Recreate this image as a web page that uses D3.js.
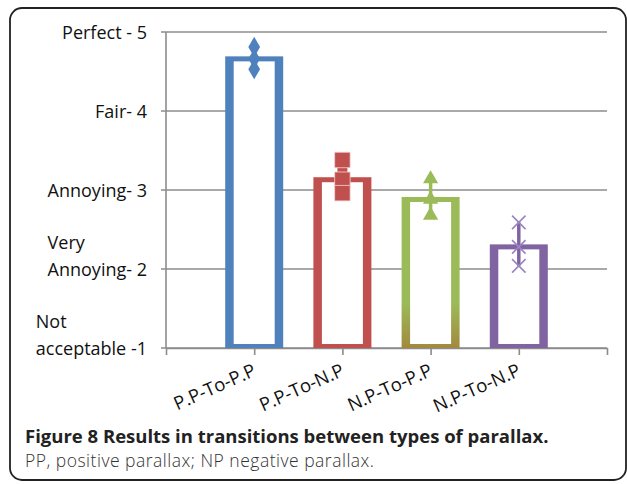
<!DOCTYPE html>
<html>
<head>
<meta charset="utf-8">
<script src="https://cdn.jsdelivr.net/npm/d3@7"></script>
<style>
  html, body { margin: 0; padding: 0; background: #fff; }
  svg { display: block; }
</style>
</head>
<body>
<svg id="chart" width="627" height="484"></svg>
<script>
// Mean opinion scores per transition type, with upper and lower spread
const categories = ["P.P-To-P.P", "P.P-To-N.P", "N.P-To-P.P", "N.P-To-N.P"];
const means = [4.66, 3.13, 2.88, 2.28];
const highs = [4.81, 3.38, 3.14, 2.59];
const lows  = [4.53, 2.96, 2.68, 2.04];
const colors = ["#4F81BD", "#C0504D", "#9BBB59", "#8064A2"];
const markers = ["diamond", "square", "triangle", "cross"];

// Rating scale labels (value, lines)
const scaleValues = [5, 4, 3, 2, 1];
const scaleLabels = [
  ["Perfect - 5"],
  ["Fair- 4"],
  ["Annoying- 3"],
  ["Very", "Annoying- 2"],
  ["Not", "acceptable -1"]
];

const captionTitle = "Figure 8 Results in transitions between types of parallax.";
const captionNote = "PP, positive parallax; NP negative parallax.";

const svg = d3.select("#chart");
const font = "'Open Sans', 'Noto Sans', sans-serif";

// Rounded frame
svg.append("rect")
  .attr("x", 10).attr("y", 8)
  .attr("width", 616).attr("height", 472)
  .attr("rx", 12).attr("ry", 12)
  .attr("fill", "none").attr("stroke", "#222").attr("stroke-width", 1.8);

const plotLeft = 166, plotRight = 607, plotTop = 32, plotBottom = 348;

const y = d3.scaleLinear().domain([1, 5]).range([plotBottom, plotTop]);
const x = d3.scaleLinear().domain([0, categories.length + 1]).range([plotLeft, plotRight]);

// Gridlines
svg.append("g").selectAll("line").data(scaleValues).join("line")
  .attr("x1", plotLeft - 5).attr("x2", plotRight)
  .attr("y1", d => y(d)).attr("y2", d => y(d))
  .attr("stroke", "#8c8c8c").attr("stroke-width", 1.6);

// Y axis line
svg.append("line")
  .attr("x1", plotLeft).attr("x2", plotLeft)
  .attr("y1", y(5)).attr("y2", y(1))
  .attr("stroke", "#8c8c8c").attr("stroke-width", 1.6);

// X axis with ticks
const xAxis = d3.axisBottom(x)
  .tickValues(d3.range(0, categories.length + 2))
  .tickSize(7)
  .tickSizeOuter(0)
  .tickFormat("");
const xg = svg.append("g").attr("transform", `translate(0,${plotBottom})`).call(xAxis);
xg.select(".domain").attr("stroke", "#8c8c8c").attr("stroke-width", 1.6);
xg.selectAll(".tick line").attr("stroke", "#8c8c8c").attr("stroke-width", 1.6);

// Y labels: lines left-aligned within a block that is right-aligned to the axis
const ylab = svg.append("g")
  .attr("font-family", font).attr("font-size", 18).attr("fill", "#111");
scaleLabels.forEach((lines, i) => {
  const v = scaleValues[i];
  const g = ylab.append("g");
  const n = lines.length;
  const texts = lines.map((t, j) =>
    g.append("text")
      .attr("y", y(v) + 6.5 - (n - 1 - j) * 26.5)
      .text(t));
  const w = d3.max(texts, t => t.node().getComputedTextLength());
  texts.forEach(t => t.attr("x", 147 - w));
});

// Gradient for the third bar (green fading to olive at the base)
const defs = svg.append("defs");
const grad = defs.append("linearGradient").attr("id", "gfade")
  .attr("x1", 0).attr("x2", 0).attr("y1", 0).attr("y2", 1);
grad.append("stop").attr("offset", "0%").attr("stop-color", colors[2]);
grad.append("stop").attr("offset", "70%").attr("stop-color", colors[2]);
grad.append("stop").attr("offset", "100%").attr("stop-color", "#a2893f");

// Outlined bars: thick sides, thinner top and bottom
const barW = 58, side = 8.5, cap = 5;
const bars = svg.append("g");
categories.forEach((c, i) => {
  const cx = x(i + 1);
  const yt = y(means[i]) - cap / 2;
  const yb = y(1);
  const fill = i === 2 ? "url(#gfade)" : colors[i];
  bars.append("rect")
    .attr("x", cx - barW / 2).attr("y", yt)
    .attr("width", barW).attr("height", yb - yt)
    .attr("fill", fill);
  bars.append("rect")
    .attr("x", cx - barW / 2 + side).attr("y", yt + cap)
    .attr("width", barW - 2 * side).attr("height", yb - yt - 2 * cap + 1)
    .attr("fill", "#fff");
});

// Spread lines and markers
const sym = {
  diamond: d3.symbol().type(d3.symbolDiamond).size(120),
  square: d3.symbol().type(d3.symbolSquare).size(240),
  triangle: d3.symbol().type(d3.symbolTriangle).size(100),
  cross: d3.symbol().type(d3.symbolX).size(120)
};
const err = svg.append("g");
categories.forEach((c, i) => {
  const cx = x(i + 1);
  err.append("line")
    .attr("x1", cx).attr("x2", cx)
    .attr("y1", y(highs[i])).attr("y2", y(lows[i]))
    .attr("stroke", colors[i]).attr("stroke-width", i === 1 ? 10 : 3.5);
  [highs[i], means[i], lows[i]].forEach(v => {
    const p = err.append("path")
      .attr("transform", `translate(${cx},${y(v)})`)
      .attr("d", sym[markers[i]]());
    if (markers[i] === "cross") {
      p.attr("fill", "none").attr("stroke", "#9a85c0").attr("stroke-width", 1.6);
    } else if (markers[i] === "square") {
      p.attr("fill", colors[i]).attr("stroke", "#f2d6d5").attr("stroke-width", 0.8);
    } else {
      p.attr("fill", colors[i]);
    }
  });
});

// Category labels, rotated
svg.append("g")
  .attr("font-family", font).attr("font-size", 18.5).attr("fill", "#111")
  .selectAll("text").data(categories).join("text")
  .attr("text-anchor", "end")
  .attr("transform", (d, i) => `translate(${x(i + 1) + 3},${plotBottom + 27}) rotate(-24)`)
  .text(d => d);

// Caption
svg.append("text")
  .attr("x", 25).attr("y", 443)
  .attr("font-family", font).attr("font-size", 18.5).attr("font-weight", "bold")
  .attr("fill", "#222")
  .text(captionTitle);
svg.append("text")
  .attr("x", 25).attr("y", 467)
  .attr("font-family", font).attr("font-size", 17.5).attr("font-weight", 300)
  .attr("letter-spacing", 0.5)
  .attr("fill", "#333")
  .text(captionNote);
</script>
</body>
</html>
